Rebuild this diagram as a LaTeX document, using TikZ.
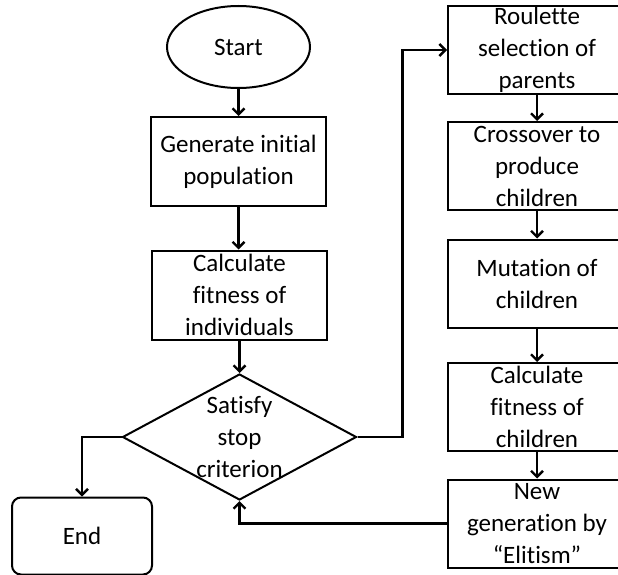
\documentclass[tikz,border=0pt]{standalone}
\usepackage{fontspec}
\setmainfont{Carlito}[Ligatures={NoCommon}]
\usetikzlibrary{arrows.meta,shapes.geometric}

\begin{document}
\begin{tikzpicture}[x=1pt, y=-1pt,
    every node/.style={font=\fontsize{25}{32}\selectfont, align=center, inner sep=0pt},
    terminal/.style={ellipse, draw, line width=2pt, minimum width=143pt, minimum height=82pt},
    proc/.style={draw, line width=2pt, minimum width=175pt, minimum height=89pt},
    stepbox/.style={draw, line width=2pt, minimum width=178pt, minimum height=88pt},
    decision/.style={diamond, draw, line width=2pt, minimum width=234pt, minimum height=126pt},
    finish/.style={draw, line width=2pt, rounded corners=9pt, minimum width=140pt, minimum height=77pt},
    arr/.style={line width=2.4pt, -{Straight Barb[length=6pt, width=12pt]}}]
    \useasboundingbox (0,0) rectangle (618,575);

    % LEFT column: set-up and test
    \node[terminal] (start) at (238.5,47) {Start};
    \node[proc] (gen) at (238.5,161.5) {Generate initial\\population};
    \node[proc] (fit) at (239.5,295) {Calculate\\fitness of\\individuals};
    \node[decision, label={center:{Satisfy\\stop\\criterion}}] (stop) at (239.5,437) {};
    \node[finish] (end) at (82,536) {End};

    % RIGHT column: one generation
    \node[stepbox] (roul) at (537,50) {Roulette\\selection of\\parents};
    \node[stepbox] (cross) at (537,166) {Crossover to\\produce\\children};
    \node[stepbox] (mut) at (537,283.5) {Mutation of\\children};
    \node[stepbox] (fitc) at (537,407) {Calculate\\fitness of\\children};
    \node[stepbox] (newg) at (537,523.5) {New\\generation by\\``Elitism''};

    % connectors
    \draw[arr] (start) -- (gen);
    \draw[arr] (gen.south) -- (gen.south |- fit.north);
    \draw[arr] (fit) -- (stop);
    \draw[arr] (stop.west) -| (end.north);
    \draw[arr] (stop.east) -- ++(45,0) |- (roul.west);
    \draw[arr] (roul) -- (cross);
    \draw[arr] (cross) -- (mut);
    \draw[arr] (mut) -- (fitc);
    \draw[arr] (fitc) -- (newg);
    \draw[arr] (newg.west) -| (stop.south);
\end{tikzpicture}
\end{document}
